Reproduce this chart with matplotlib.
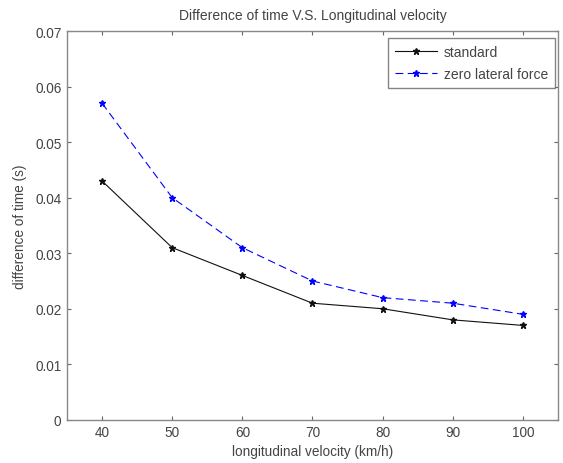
import matplotlib
matplotlib.use("Agg")
import matplotlib.pyplot as plt

velocity = [40, 50, 60, 70, 80, 90, 100]
standard = [0.043, 0.031, 0.026, 0.021, 0.020, 0.018, 0.017]
zero_lateral = [0.057, 0.040, 0.031, 0.025, 0.022, 0.021, 0.019]

TEXT = "#444444"
plt.rcParams["font.family"] = ["Liberation Sans", "DejaVu Sans"]
plt.rcParams["font.size"] = 9.8

fig = plt.figure(figsize=(5.63, 4.64), dpi=100)
ax = fig.add_axes([0.119, 0.093, 0.872, 0.838])

ax.plot(velocity, standard, color="#111111", lw=0.8, marker="*", ms=4.5,
        label="standard")
ax.plot(velocity, zero_lateral, color="blue", lw=0.8, ls=(0, (7, 4)),
        marker="*", ms=4.5, label="zero lateral force")

ax.set_xlim(35, 105)
ax.set_ylim(0, 0.07)
ax.set_xticks(velocity)
ax.set_yticks([0, 0.01, 0.02, 0.03, 0.04, 0.05, 0.06, 0.07])
ax.set_yticklabels(["0", "0.01", "0.02", "0.03", "0.04", "0.05", "0.06", "0.07"])
ax.tick_params(direction="in", length=3, colors="#666666", labelcolor=TEXT,
               top=True, right=True, pad=4)
for s in ax.spines.values():
    s.set_color("#888888")
    s.set_linewidth(1.0)

ax.set_title("Difference of time V.S. Longitudinal velocity", color=TEXT,
             fontsize=10, pad=9)
ax.set_xlabel("longitudinal velocity (km/h)", color=TEXT, labelpad=3)
ax.set_ylabel("difference of time (s)", color=TEXT, labelpad=6)

leg = ax.legend(loc="upper right", fancybox=False, edgecolor="#666666",
                fontsize=10, handlelength=3.0, borderpad=0.5,
                labelspacing=0.55, handletextpad=0.5, borderaxespad=0,
                bbox_to_anchor=(0.994, 0.982))
for t in leg.get_texts():
    t.set_color(TEXT)

fig.savefig("out.png", dpi=100)
